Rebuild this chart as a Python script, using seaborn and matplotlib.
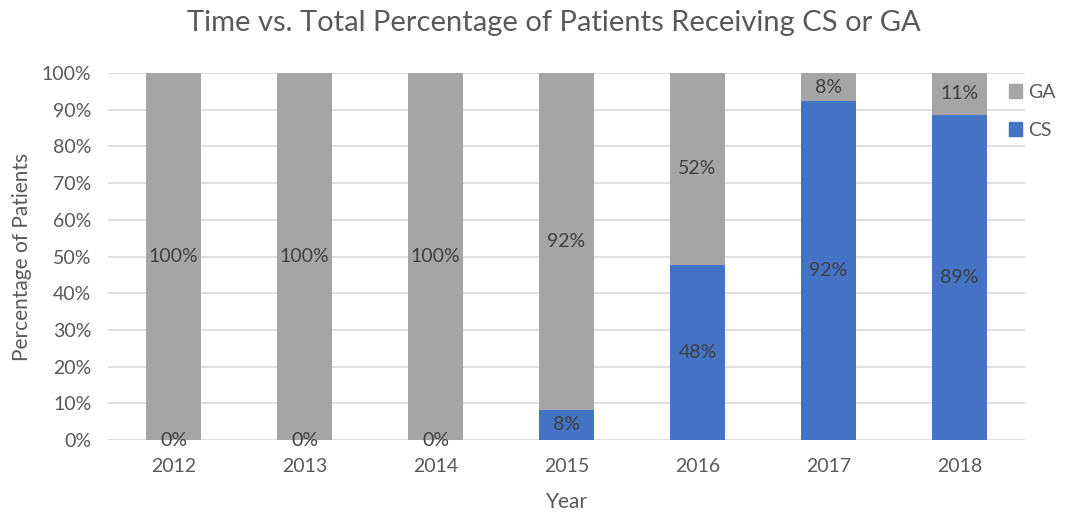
import matplotlib
matplotlib.use("Agg")
import matplotlib.pyplot as plt
from matplotlib.patches import Patch
import numpy as np
import pandas as pd
import seaborn as sns

# data (percent of patients)
years = ["2012", "2013", "2014", "2015", "2016", "2017", "2018"]
cs_pct = [0, 0, 0, 8.2, 47.7, 92.3, 88.6]
ga_pct = [100, 100, 100, 91.8, 52.3, 7.7, 11.4]
cs_labels = ["0%", "0%", "0%", "8%", "48%", "92%", "89%"]
ga_labels = ["100%", "100%", "100%", "92%", "52%", "8%", "11%"]

blue = "#4472C4"
grey = "#A5A5A5"
tick_col = "#595959"
label_col = "#404040"

df = pd.DataFrame({"Year": years, "CS": cs_pct, "GA": ga_pct})
df["Total"] = df["CS"] + df["GA"]

sns.set_style("white")
plt.rcParams["font.family"] = ["Lato", "DejaVu Sans"]

fig = plt.figure(figsize=(10.66, 5.14), dpi=100)
ax = fig.add_axes([108 / 1066, 1 - 440 / 514, (1025 - 108) / 1066, (440 - 73) / 514])

# stacked: draw the total in grey, then CS on top in blue
sns.barplot(data=df, x="Year", y="Total", color=grey, width=0.42, ax=ax,
            saturation=1, linewidth=0, zorder=2)
sns.barplot(data=df, x="Year", y="CS", color=blue, width=0.42, ax=ax,
            saturation=1, linewidth=0, zorder=3)

ax.set_xlim(-0.5, 6.5)
ax.set_ylim(0, 100)
ax.set_yticks(np.arange(0, 101, 10))
ax.set_yticklabels([f"{v}%" for v in range(0, 101, 10)])
ax.yaxis.grid(True, color="#D9D9D9", linewidth=1.2, zorder=0)
ax.set_axisbelow(True)
for s in ax.spines.values():
    s.set_visible(False)
ax.tick_params(axis="both", length=0, labelsize=14, colors=tick_col)
ax.tick_params(axis="y", pad=12)
ax.tick_params(axis="x", pad=13)

# data labels in the middle of each segment
for i in range(len(years)):
    cs = df["CS"][i]
    ga = df["GA"][i]
    ax.text(i, cs / 2, cs_labels[i], ha="center", va="center", fontsize=14,
            color=label_col, zorder=5)
    ax.text(i, cs + ga / 2, ga_labels[i], ha="center", va="center", fontsize=14,
            color=label_col, zorder=5)

ax.set_xlabel("Year", fontsize=15, color=tick_col, labelpad=12)
ax.set_ylabel("Percentage of Patients", fontsize=15, color=tick_col, labelpad=7)

fig.text(554 / 1066, 1 - 23 / 514, "Time vs. Total Percentage of Patients Receiving CS or GA",
         ha="center", va="center", fontsize=21, color=tick_col)

handles = [Patch(color=grey, label="GA"), Patch(color=blue, label="CS")]
fig.legend(handles=handles, loc="upper left", bbox_to_anchor=(991 / 1066, 1 - 66 / 514),
           frameon=False, fontsize=14, handlelength=0.7, handleheight=0.7,
           handletextpad=0.3, labelspacing=1.1, labelcolor=tick_col)

fig.savefig("out.png", dpi=100)
